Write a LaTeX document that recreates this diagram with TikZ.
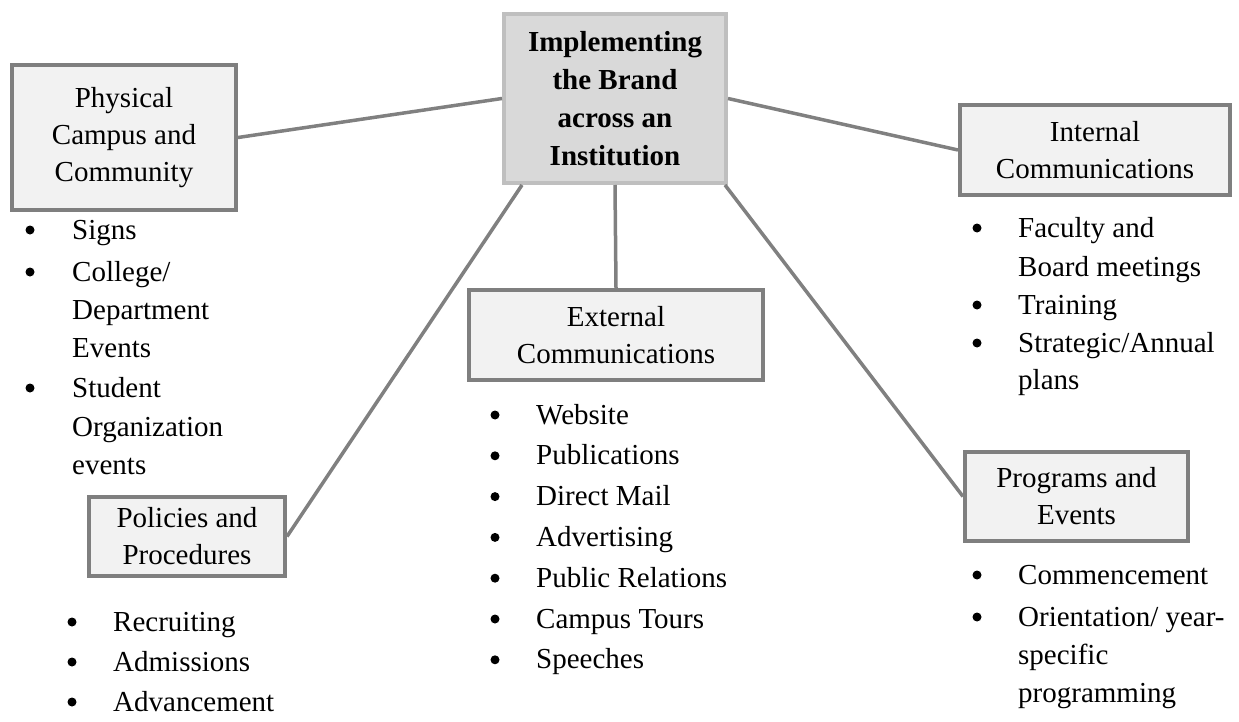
\documentclass[tikz,border=0pt]{standalone}
\usepackage{fontspec}
\setmainfont{Liberation Serif}
\definecolor{boxfill}{HTML}{F2F2F2}
\definecolor{boxline}{HTML}{7F7F7F}
\definecolor{hubfill}{HTML}{D9D9D9}
\definecolor{hubline}{HTML}{BFBFBF}
\definecolor{linkgray}{HTML}{808080}
\tikzset{
  box/.style={draw=boxline, fill=boxfill, line width=4pt, inner sep=0pt,
    align=center, font=\fontsize{29}{37}\selectfont},
  hub/.style={box, draw=hubline, fill=hubfill,
    font=\fontsize{29}{38}\selectfont\bfseries},
  link/.style={draw=linkgray, line width=3.5pt},
  itm/.style={anchor=base west, inner sep=0pt, font=\fontsize{29}{37}\selectfont},
  dot/.style={fill=black, circle, inner sep=0pt, minimum size=9pt}
}
\begin{document}
\begin{tikzpicture}[x=1pt, y=-1pt]
\useasboundingbox (0,0) rectangle (1239,722);

% central topic and the five areas
\node[hub, minimum width=222pt, minimum height=169pt] (hub) at (615,98.5)
  {Implementing\\the Brand\\across an\\Institution};
\node[box, minimum width=224pt, minimum height=145pt] (phys) at (124,137.5)
  {Physical\\Campus and\\Community};
\node[box, minimum width=270pt, minimum height=90pt] (intl) at (1095,150)
  {Internal\\Communications};
\node[box, minimum width=294pt, minimum height=90pt] (ext) at (616,335)
  {External\\Communications};
\node[box, minimum width=196pt, minimum height=79pt] (pol) at (187,536.5)
  {Policies and\\Procedures};
\node[box, minimum width=223pt, minimum height=89pt] (prog) at (1076.5,496.5)
  {Programs and\\Events};

% connectors
\path[link] (hub.west) -- (phys.east);
\path[link] (hub.east) -- (intl.west);
\path[link] (hub.south) -- (ext.north);
\path[link] ([xshift=20pt]hub.south west) -- (pol.east);
\path[link] ([xshift=-3pt]hub.south east) -- (prog.west);

% Physical Campus and Community
\node[dot] (pb1) at (30,230) {};
\node[dot] (pb2) at (30,272) {};
\node[dot] (pb3) at (30,388) {};
\node[itm] (p1) at (72,239) {Signs};
\node[itm] (p2) at (72,281) {College/};
\node[itm] (p3) at (72,319) {Department};
\node[itm] (p4) at (72,357) {Events};
\node[itm] (p5) at (72,397) {Student};
\node[itm] (p6) at (72,436) {Organization};
\node[itm] (p7) at (72,474) {events};

% Internal Communications
\node[dot] (ib1) at (977,228) {};
\node[dot] (ib2) at (977,305) {};
\node[dot] (ib3) at (977,343) {};
\node[itm] (i1) at (1018,237) {Faculty and};
\node[itm] (i2) at (1018,276) {Board meetings};
\node[itm] (i3) at (1018,314) {Training};
\node[itm] (i4) at (1018,352) {Strategic/Annual};
\node[itm] (i5) at (1018,389) {plans};

% External Communications
\foreach \t [count=\k] in {Website,Publications,Direct Mail,Advertising,
    Public Relations,Campus Tours,Speeches}{
  \pgfmathsetmacro{\yy}{415+40.8*(\k-1)}
  \node[dot] (eb\k) at (495,\yy) {};
  \node[itm] (e\k) at (536,\yy+9) {\t};
}

% Programs and Events
\node[dot] (gb1) at (977,575) {};
\node[dot] (gb2) at (977,617) {};
\node[itm] (g1) at (1018,584) {Commencement};
\node[itm] (g2) at (1018,626) {Orientation/ year-};
\node[itm] (g3) at (1018,664) {specific};
\node[itm] (g4) at (1018,702) {programming};

% Policies and Procedures
\node[dot] (cb1) at (72,622) {};
\node[dot] (cb2) at (72,662) {};
\node[dot] (cb3) at (72,702) {};
\node[itm] (c1) at (113,631) {Recruiting};
\node[itm] (c2) at (113,671) {Admissions};
\node[itm] (c3) at (113,711) {Advancement};
\end{tikzpicture}
\end{document}
